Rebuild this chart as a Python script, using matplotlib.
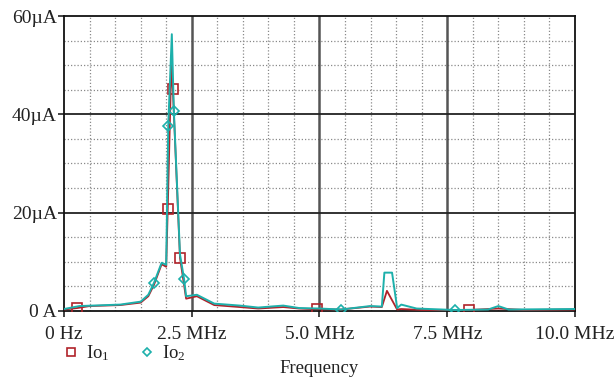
import matplotlib
matplotlib.use("Agg")
import matplotlib.pyplot as plt
from matplotlib.lines import Line2D
from matplotlib.ticker import MultipleLocator, FuncFormatter

plt.rcParams['font.family'] = ['Liberation Serif', 'DejaVu Serif']
plt.rcParams['mathtext.fontset'] = 'custom'
plt.rcParams['mathtext.rm'] = 'Liberation Serif'
plt.rcParams['mathtext.it'] = 'Liberation Serif:italic'

# frequency in MHz, current in uA
freq_io1 = [0.0, 0.26, 0.5, 1.1, 1.5, 1.65, 1.76, 1.91, 2.0, 2.03, 2.1, 2.13, 2.27,
            2.39, 2.6, 2.94, 3.44, 3.8, 4.29, 4.6, 4.96, 5.42, 5.99, 6.22, 6.32,
            6.52, 6.6, 7.0, 7.65, 7.93, 8.5, 9.0, 10.0]
io1 = [0.3, 0.6, 1.0, 1.2, 1.7, 3.0, 5.3, 9.5, 9.0, 20.7, 50.0, 45.1, 10.8,
       2.5, 3.0, 1.2, 0.8, 0.5, 0.8, 0.5, 0.35, 0.3, 0.9, 0.8, 4.1,
       0.3, 0.4, 0.2, 0.2, 0.2, 0.5, 0.2, 0.3]
marks_io1 = [1, 9, 11, 12, 20, 29]

freq_io2 = [0.0, 0.3, 1.1, 1.5, 1.65, 1.76, 1.91, 2.0, 2.04, 2.11, 2.15, 2.27, 2.35,
            2.39, 2.6, 2.94, 3.44, 3.8, 4.29, 4.6, 5.0, 5.42, 5.99, 6.22, 6.27,
            6.42, 6.52, 6.6, 6.9, 7.65, 8.3, 8.5, 8.7, 10.0]
io2 = [0.4, 1.0, 1.3, 1.9, 3.3, 5.7, 9.8, 9.4, 37.7, 56.3, 40.7, 11.5, 6.5,
       3.0, 3.3, 1.5, 1.1, 0.7, 1.1, 0.6, 0.5, 0.3, 1.0, 0.9, 7.8,
       7.8, 0.6, 1.3, 0.5, 0.2, 0.3, 1.0, 0.3, 0.4]
marks_io2 = [5, 8, 10, 12, 21, 29]

red = '#b0222a'
teal = '#1db0ab'

fig = plt.figure(figsize=(6.16, 3.82), dpi=100)
ax = fig.add_axes([0.1039, 0.1859, 0.8295, 0.7722])

ax.plot(freq_io1, io1, color=red, lw=1.3, marker='s', markevery=marks_io1,
        ms=7, mfc='none', mec=red, mew=1.2, zorder=4)
ax.plot(freq_io2, io2, color=teal, lw=1.4, marker='D', markevery=marks_io2,
        ms=5, mfc='none', mec=teal, mew=1.2, zorder=5)

ax.set_xlim(0, 10)
ax.set_ylim(0, 60)
ax.xaxis.set_major_locator(MultipleLocator(2.5))
ax.xaxis.set_minor_locator(MultipleLocator(0.5))
ax.yaxis.set_major_locator(MultipleLocator(20))
ax.yaxis.set_minor_locator(MultipleLocator(5))

ax.xaxis.set_major_formatter(FuncFormatter(lambda v, p: '0 Hz' if v == 0 else '%.1f MHz' % v))
ax.yaxis.set_major_formatter(FuncFormatter(lambda v, p: '0 A' if v == 0 else '%d\u00b5A' % v))

ax.grid(which='minor', color='#8a8a8a', linestyle=(0, (1, 1.6)), lw=0.9)
for x in [2.5, 5.0, 7.5]:
    ax.axvline(x, color='#555555', lw=1.8, zorder=2)
for y in [20, 40]:
    ax.axhline(y, color='#222222', lw=1.3, zorder=2)

ax.tick_params(which='major', direction='out', length=4, width=1.2, labelsize=14,
               color='#222222', labelcolor='#222222')
ax.tick_params(axis='x', pad=7)
ax.tick_params(axis='y', pad=1)
ax.tick_params(which='minor', length=0)
for s in ax.spines.values():
    s.set_color('#111111')
    s.set_linewidth(1.3)

ax.set_xlabel('Frequency', fontsize=13.5, color='#222222', labelpad=12)

handles = [Line2D([], [], ls='none', marker='s', ms=6, mfc='none', mec=red, mew=1.2),
           Line2D([], [], ls='none', marker='D', ms=4.5, mfc='none', mec=teal, mew=1.2)]
leg = fig.legend(handles, ['Io$_1$', 'Io$_2$'], ncol=2, frameon=False, fontsize=13.5,
                 loc='center left', bbox_to_anchor=(0.075, 0.075), handlelength=0.8,
                 handletextpad=0.4, columnspacing=1.6)
for t in leg.get_texts():
    t.set_color('#222222')

fig.savefig('out.png', dpi=100)
